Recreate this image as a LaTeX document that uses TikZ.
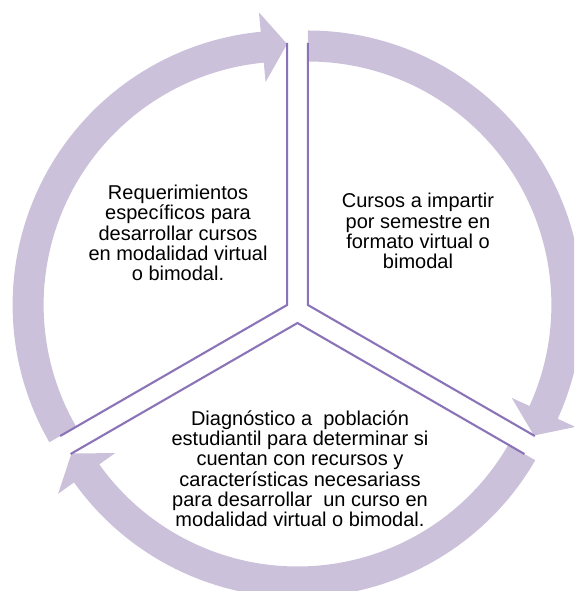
\documentclass[tikz,border=0pt]{standalone}
\usepackage{fontspec}
\setmainfont{Liberation Sans}
\usetikzlibrary{calc}
\definecolor{bandcol}{HTML}{CCC1DA}
\definecolor{edgecol}{HTML}{8A74B7}
\newcommand{\cycarrow}[3]{%
  \fill[arrowband] ($(#1)+(#2:274.5)$) arc[start angle=#2, end angle={#3+5.5}, radius=274.5]
    -- ($(#1)+({#3+5.5}:294)$) -- ($(#1)+(#3:261)$) -- ($(#1)+({#3+5.5}:224)$)
    -- ($(#1)+({#3+5.5}:243.5)$) arc[start angle={#3+5.5}, end angle=#2, radius=243.5] -- cycle;}
\begin{document}
\begin{tikzpicture}[x=1pt,y=1pt,
  arrowband/.style={fill=bandcol,draw=none},
  sectorline/.style={draw=edgecol,line width=2.1pt,line join=miter},
  lbl/.style={font=\fontsize{20}{20.3}\selectfont,align=center,inner sep=0pt,text=black,anchor=north}]
\useasboundingbox (0,0) rectangle (574,591);
\clip (0,0) rectangle (574,591);
\fill[white] (0,0) rectangle (574,591);

\coordinate (L) at (287.1,286);
\coordinate (R) at (307.9,286);
\coordinate (B) at (297.5,268);

\cycarrow{L}{210}{90}
\cycarrow{R}{90}{-30}
\cycarrow{B}{330}{210}

\coordinate (Lt) at ($(L)+(90:262)$);
\coordinate (Lb) at ($(L)+(210:262)$);
\coordinate (Rt) at ($(R)+(90:262)$);
\coordinate (Rb) at ($(R)+(-30:262)$);
\coordinate (Bl) at ($(B)+(210:262)$);
\coordinate (Br) at ($(B)+(-30:262)$);

\draw[sectorline] (Lt) -- (L) -- (Lb);
\draw[sectorline] (Rt) -- (R) -- (Rb);
\draw[sectorline] (Bl) -- (B) -- (Br);

\node[lbl] (tleft) at (178,407.7) {\rule{0pt}{16pt}Requerimientos\\específicos para\\desarrollar cursos\\en modalidad virtual\\o bimodal.};
\node[lbl] (tright) at (418,399.3) {\rule{0pt}{16pt}Cursos a impartir\\por semestre en\\formato virtual o\\bimodal};
\node[lbl] (tbottom) at (300,182) {\rule{0pt}{16pt}Diagnóstico a~~población\\estudiantil para determinar si\\cuentan con recursos y\\características necesariass\\para desarrollar~~un curso en\\modalidad virtual o bimodal.};
\end{tikzpicture}
\end{document}
